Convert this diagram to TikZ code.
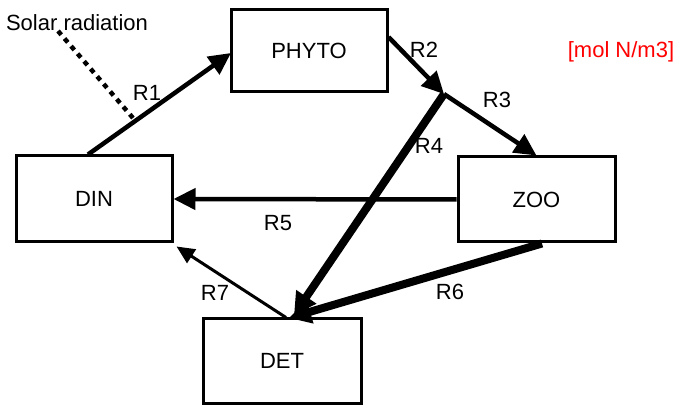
\documentclass[tikz,border=0pt]{standalone}
\usepackage{fontspec}
\setmainfont{Liberation Sans}
\usetikzlibrary{arrows.meta,calc}
\begin{document}
\begin{tikzpicture}[x=1pt,y=-1pt,
  box/.style={draw=black,line width=3pt,rectangle,inner sep=0pt,font=\fontsize{22}{26}\selectfont},
  lbl/.style={font=\fontsize{22}{26}\selectfont,inner sep=0pt},
  flow/.style={line width=4.5pt,-{Triangle[length=22pt,width=21pt]}},
  thickflow/.style={line width=8pt,-{Triangle[length=22pt,width=23pt]}},
  thinflow/.style={line width=3pt,-{Triangle[length=18pt,width=16pt]}},
  sun/.style={line width=4.5pt,dash pattern=on 5pt off 5pt}]
\useasboundingbox (0,0) rectangle (686,414);
\fill[white] (0,0) rectangle (686,414);
% boxes
\node[box,minimum width=156pt,minimum height=82pt] (PHYTO) at (309,51) {PHYTO};
\node[box,minimum width=156pt,minimum height=86pt] (DIN) at (94,199) {DIN};
\node[box,minimum width=157pt,minimum height=85pt] (ZOO) at (536.5,199.5) {ZOO};
\node[box,minimum width=158pt,minimum height=84pt] (DET) at (282,361) {DET};
% texts
\node[lbl] (solar) at (77,23) {Solar radiation};
\node[lbl,text=red] (unit) at (621,52) {[mol N/m3]};
% coordinates
\coordinate (S1) at (58,31);
\coordinate (S2) at (133,118);
\coordinate (J) at (444,94);
% solar dotted line
\draw[sun] (S1) -- (S2);
% flows
\draw[flow] (88,0 |- DIN.north) -- (231,53);
\draw[flow] (PHYTO.east |- 0,37) -- (J);
\draw[flow] (J) -- (ZOO.north);
\draw[thickflow] (J) -- (294,315);
\draw[flow] (ZOO.west) -- (DIN.east);
\draw[thickflow] (542,0 |- ZOO.south) -- (289,318);
\draw[thinflow] (286,0 |- DET.north) -- ($(DIN.south east)+(3,3)$);
% labels
\node[lbl] (R1) at (147,93) {R1};
\node[lbl] (R2) at (424,50) {R2};
\node[lbl] (R3) at (497,100) {R3};
\node[lbl] (R4) at (429,146) {R4};
\node[lbl] (R5) at (278,223) {R5};
\node[lbl] (R6) at (450,292) {R6};
\node[lbl] (R7) at (215,293) {R7};
\end{tikzpicture}
\end{document}
